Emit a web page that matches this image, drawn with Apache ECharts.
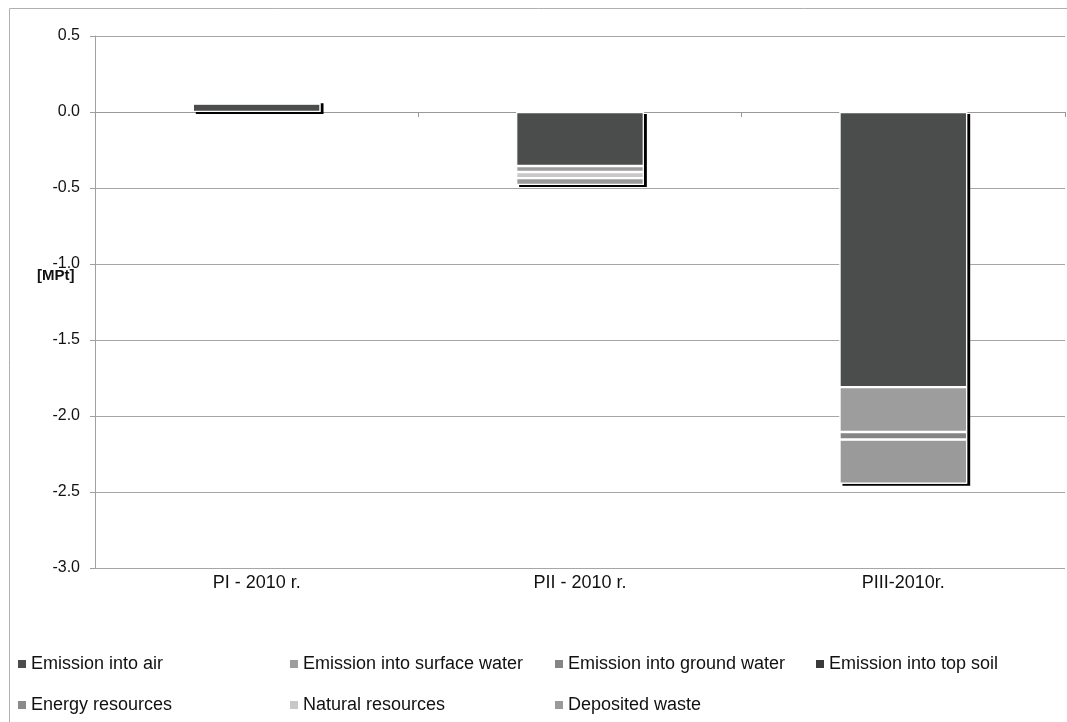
<!DOCTYPE html>
<html>
<head>
<meta charset="utf-8">
<script src="https://cdn.jsdelivr.net/npm/echarts@6/dist/echarts.min.js"></script>
<style>html,body{margin:0;padding:0;background:#fff;}#c{width:1067px;height:722px;}</style>
</head>
<body>
<div id="c"></div>
<script>
var categories = ['PI - 2010 r.', 'PII - 2010 r.', 'PIII-2010r.'];
var seriesNames = ['Emission into air', 'Emission into surface water', 'Emission into ground water', 'Emission into top soil', 'Energy resources', 'Natural resources', 'Deposited waste'];
var emissionAir = [0.055, -0.355, -1.81];
var emissionSurfaceWater = [null, -0.04, -0.295];
var emissionGroundWater = [null, null, -0.05];
var emissionTopSoil = [null, null, null];
var energyResources = [null, null, null];
var naturalResources = [0.015, -0.04, null];
var depositedWaste = [null, -0.045, -0.29];
var yTicks = { min: -3.0, max: 0.5, interval: 0.5 };

var seriesValues = [emissionAir, emissionSurfaceWater, emissionGroundWater, emissionTopSoil, energyResources, naturalResources, depositedWaste];
var colors = ['#4b4d4c', '#9d9d9d', '#858585', '#3a3a3a', '#8a8a8a', '#c8c8c8', '#9a9a9a'];

// totals per category (used only for the drop shadow behind each stack)
var totals = categories.map(function (c, j) {
  var pos = 0, neg = 0;
  seriesValues.forEach(function (arr) {
    var v = arr[j];
    if (v == null) return;
    if (v >= 0) pos += v; else neg += v;
  });
  return neg < 0 ? neg : pos;
});

var chart = echarts.init(document.getElementById('c'), null, { renderer: 'canvas' });

var legendPos = [
  [13, 650], [285, 650], [550, 650], [811, 650],
  [13, 691], [285, 691], [550, 691]
];
var FONT = 'Liberation Sans, Arial, sans-serif';

var series = [{
  name: '_shadow',
  type: 'bar',
  xAxisIndex: 1,
  barWidth: '39.5%',
  data: totals,
  z: 1,
  silent: true,
  itemStyle: {
    color: '#ffffff',
    shadowColor: '#000000',
    shadowBlur: 0,
    shadowOffsetX: 3,
    shadowOffsetY: 2
  },
  emphasis: { disabled: true }
}];
seriesNames.forEach(function (n, i) {
  series.push({
    name: n,
    type: 'bar',
    stack: 'total',
    xAxisIndex: 0,
    barWidth: '39.5%',
    z: 2,
    data: seriesValues[i],
    itemStyle: {
      color: colors[i],
      borderColor: '#ffffff',
      borderWidth: 1.2
    },
    emphasis: { disabled: true }
  });
});

var option = {
  animation: false,
  backgroundColor: '#ffffff',
  color: colors,
  textStyle: { fontFamily: FONT },
  grid: { left: 95, right: 2, top: 36, bottom: 154, containLabel: false },
  legend: seriesNames.map(function (n, i) {
    return {
      data: [n],
      left: legendPos[i][0],
      top: legendPos[i][1],
      icon: 'rect',
      itemWidth: 8,
      itemHeight: 8,
      itemGap: 0,
      selectedMode: false,
      textStyle: { fontSize: 18, color: '#111', fontFamily: FONT },
      itemStyle: { borderWidth: 0 }
    };
  }),
  xAxis: [
    {
      type: 'category',
      data: categories,
      position: 'bottom',
      axisLine: { show: false, onZero: false },
      axisTick: { show: false },
      splitLine: { show: false },
      axisLabel: { color: '#111', fontSize: 18, margin: 6 }
    },
    {
      type: 'category',
      data: categories,
      position: 'bottom',
      axisLine: { show: true, onZero: true, lineStyle: { color: '#999', width: 1 } },
      axisTick: { show: true, length: 5, lineStyle: { color: '#999' } },
      axisLabel: { show: false },
      splitLine: { show: false }
    }
  ],
  yAxis: {
    type: 'value',
    min: yTicks.min,
    max: yTicks.max,
    interval: yTicks.interval,
    axisLine: { show: true, lineStyle: { color: '#a0a0a0', width: 1 } },
    axisTick: { show: true, length: 5, lineStyle: { color: '#a0a0a0' } },
    splitLine: { show: true, lineStyle: { color: '#a6a6a6', width: 1 } },
    axisLabel: {
      color: '#111', fontSize: 16, margin: 15,
      formatter: function (v) { return v.toFixed(1); }
    }
  },
  graphic: [
    {
      type: 'rect',
      shape: { x: 9.5, y: 8.5, width: 1200, height: 900 },
      style: { fill: 'none', stroke: '#b0b0b0', lineWidth: 1 },
      silent: true, z: -10
    },
    {
      type: 'text',
      left: 37, top: 268,
      style: { text: '[MPt]', font: 'bold 15px Liberation Sans, Arial, sans-serif', fill: '#111' }
    }
  ],
  series: series
};
chart.setOption(option);
</script>
</body>
</html>
